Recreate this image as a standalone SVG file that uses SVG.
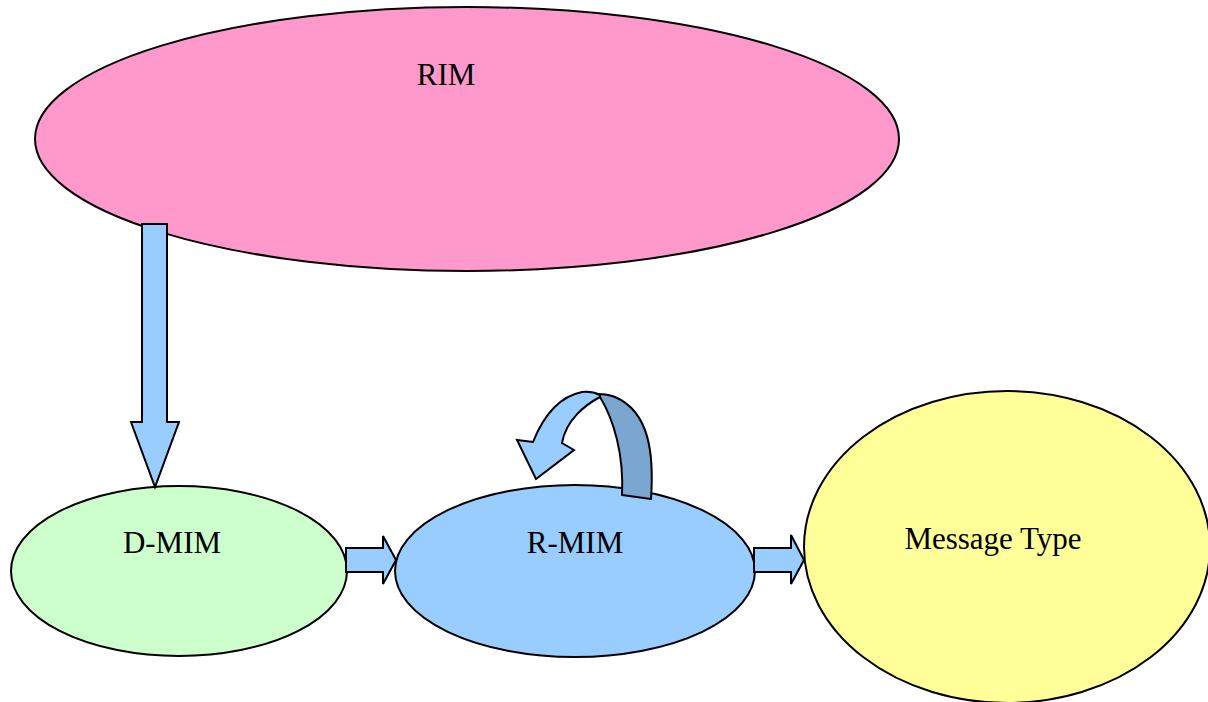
<svg xmlns="http://www.w3.org/2000/svg" width="1208" height="702" viewBox="0 0 1208 702">
<style>
.n{stroke:#000;stroke-width:2}
.a{fill:#99ccff;stroke:#000;stroke-width:2;stroke-linejoin:miter}
text{font-family:"Liberation Serif","Times New Roman",serif;font-size:31px;fill:#000;text-anchor:middle}
</style>
<rect width="1208" height="702" fill="#fff"/>
<g id="rim"><ellipse class="n" cx="467" cy="139" rx="432" ry="132" fill="#ff99cc"/><text x="446" y="85">RIM</text></g>
<g id="dmim"><ellipse class="n" cx="179" cy="571" rx="168" ry="85" fill="#ccffcc"/><text x="172" y="553">D-MIM</text></g>
<g id="rmim"><ellipse class="n" cx="575" cy="571" rx="180" ry="86" fill="#99ccff"/><text x="575" y="553">R-MIM</text></g>
<g id="msg"><ellipse class="n" cx="1007" cy="547" rx="203" ry="156" fill="#ffff99"/><text x="993" y="549">Message Type</text></g>
<g id="connectors">
<path class="a" d="M142,224 H167 V422 H179 L155,487 L131,422 H142 Z"/>
<path class="a" d="M346,548 H383 V536 L396,560 L383,584 V572 H346 Z"/>
<path class="a" d="M754,548 H791 V535 L804,560 L791,584 V572 H754 Z"/>
<path d="M600,397 C614,420 624,455 622,495 L651,499 C654,455 650,412 615,397 C610,395 604,394 598,394 Z" fill="#7aa6d0" stroke="#000" stroke-width="2" stroke-linejoin="round"/>
<path class="a" d="M600,397 C585,405 566,420 562,443 L574,450 L536,479 L517,440 L533,442 C545,412 562,396 582,392 Q592,391 600,395 Z"/>
</g>
</svg>
